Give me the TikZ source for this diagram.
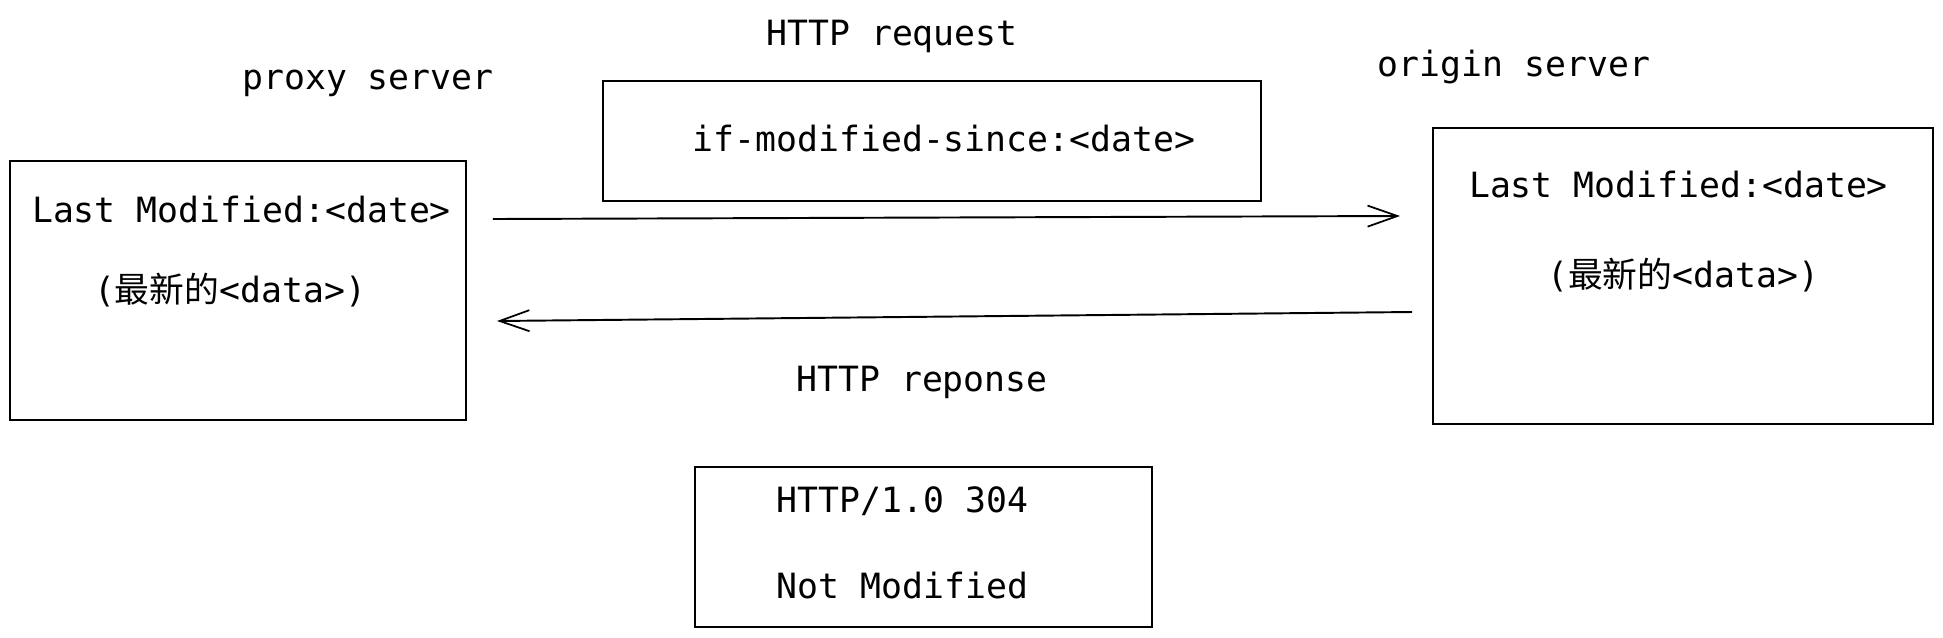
\documentclass[tikz,border=0pt]{standalone}
\usepackage{fontspec}
\setmonofont{DejaVu Sans Mono}
\newfontfamily\cjk{Noto Sans CJK SC}
\usetikzlibrary{arrows.meta,calc,positioning}

\begin{document}
\begin{tikzpicture}[x=0.02cm,y=-0.02cm,
    font=\ttfamily\fontsize{19.8pt}{24pt}\selectfont,
    box/.style={draw,line width=0.8pt,inner sep=0pt,outer sep=0pt},
    lbl/.style={inner sep=0pt,text height=1.58em,text depth=0.2em},
    msg/.style={line width=1.1pt,-{Straight Barb[length=17pt,width=12pt,line width=1pt]}}]
    \useasboundingbox (0,0) rectangle (1943,637);
    % the two servers
    \node[box,minimum width=9.12cm,minimum height=5.18cm] (proxy) at (238,290.5) {};
    \node[box,minimum width=10cm,minimum height=5.92cm] (origin) at (1683,276) {};
    \node[lbl] (proxyname) at (368,77) {proxy server};
    \node[lbl] (originname) at (1514,64) {origin server};
    \node[lbl] (proxydate) at (241.5,210) {Last Modified:<date>};
    \node[lbl] (proxydata) at (230,290) {({\cjk 最新的}<data>)};
    \node[lbl] (origindate) at (1678.5,185) {Last Modified:<date>};
    \node[lbl] (origindata) at (1683,275) {({\cjk 最新的}<data>)};
    % request
    \node[lbl] (reqname) at (892,33) {HTTP request};
    \node[box,minimum width=13.16cm,minimum height=2.4cm] (req) at (932,141) {};
    \node[lbl] (reqtext) at (944,139) {if-modified-since:<date>};
    % response
    \node[lbl] (respname) at (922,379) {HTTP reponse};
    \node[box,minimum width=9.14cm,minimum height=3.2cm] (resp) at (923.5,547) {};
    \node[lbl] (respline1) at (902.5,500) {HTTP/1.0 304};
    \node[lbl] (respline2) at (902.5,586) {Not Modified};
    % arrows
    \draw[msg] ($(proxy.east)+(27,-71.5)$) -- ($(origin.west)+(-33,-60)$);
    \draw[msg] ($(origin.west)+(-21,36)$) -- ($(proxy.east)+(31,30.5)$);
\end{tikzpicture}
\end{document}
